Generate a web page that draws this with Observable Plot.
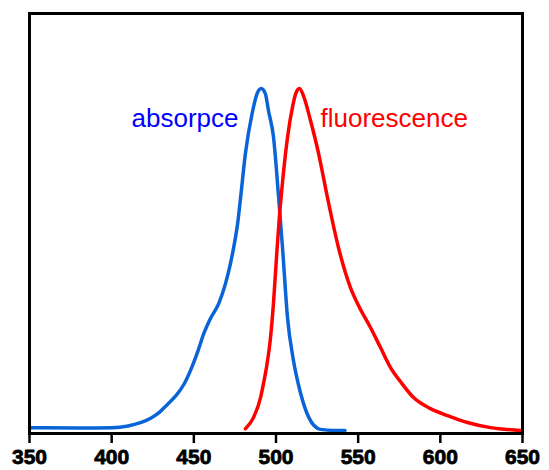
<!DOCTYPE html>
<html>
<head>
<meta charset="utf-8">
<script src="https://cdn.jsdelivr.net/npm/d3@7"></script>
<script src="https://cdn.jsdelivr.net/npm/@observablehq/plot@0.6"></script>
<style>
  html, body { margin: 0; padding: 0; background: #fff; }
  #chart svg { display: block; }
</style>
</head>
<body>
<div id="chart"></div>
<script>
// Absorption spectrum (wavelength nm, normalized intensity)
const absWl  = [350, 380, 400, 410, 418, 424, 429, 433, 438.8, 443.9, 448, 452, 456.1, 460.1, 465.2, 469.3, 472.3, 474.7, 476.7, 478.6, 481.4, 485.5, 488.5, 491, 493.5, 495.4, 498.5, 501.5, 504, 507, 510.6, 515, 520, 527, 535, 542];
const absVal = [0.017, 0.016, 0.017, 0.022, 0.032, 0.045, 0.061, 0.08, 0.108, 0.142, 0.183, 0.232, 0.29, 0.333, 0.377, 0.435, 0.493, 0.551, 0.61, 0.69, 0.812, 0.928, 0.985, 1.0, 0.985, 0.936, 0.858, 0.69, 0.536, 0.336, 0.212, 0.116, 0.046, 0.012, 0.009, 0.009];

// Fluorescence spectrum
const fluWl  = [481.4, 486.3, 490.6, 492.4, 494.5, 496.6, 498.5, 500.3, 502.1, 504, 507, 510, 512, 514.3, 517, 521, 525.9, 531.3, 538, 545.3, 550.2, 557.5, 563.6, 569.7, 575.8, 583.7, 594, 604.4, 616.5, 630.5, 649];
const fluVal = [0.014, 0.046, 0.104, 0.145, 0.2, 0.275, 0.38, 0.51, 0.63, 0.73, 0.858, 0.945, 0.985, 1.0, 0.975, 0.907, 0.812, 0.684, 0.539, 0.423, 0.371, 0.307, 0.249, 0.191, 0.15, 0.104, 0.072, 0.052, 0.032, 0.017, 0.009];

const xTicks = [350, 400, 450, 500, 550, 600, 650];

const labels = [
  {text: "absorpce", x: 477.2, y: 0.887, anchor: "end", color: "#0000ff"},
  {text: "fluorescence", x: 527.1, y: 0.887, anchor: "start", color: "#ff0000"}
];

const absData = absWl.map((w, i) => ({w, v: absVal[i]}));
const fluData = fluWl.map((w, i) => ({w, v: fluVal[i]}));

const chart = Plot.plot({
  width: 549,
  height: 470,
  marginLeft: 29,
  marginRight: 27,
  marginTop: 13,
  marginBottom: 37,
  style: {fontFamily: "Liberation Sans, Arial, sans-serif", background: "#fff", color: "#000"},
  x: {domain: [350, 650], axis: null},
  y: {domain: [0, 1.217], axis: null},
  marks: [
    Plot.line(absData, {x: "w", y: "v", stroke: "#0a64d8", strokeWidth: 3.5, curve: "monotone-x"}),
    Plot.line(fluData, {x: "w", y: "v", stroke: "#ff0000", strokeWidth: 3.5, curve: "monotone-x"}),
    Plot.text(labels.filter(d => d.anchor === "end"), {x: "x", y: "y", text: "text", fill: "color", textAnchor: "end", lineAnchor: "bottom", fontSize: 26}),
    Plot.text(labels.filter(d => d.anchor === "start"), {x: "x", y: "y", text: "text", fill: "color", textAnchor: "start", lineAnchor: "bottom", fontSize: 26}),
    Plot.axisX({ticks: xTicks, tickFormat: d => String(d), tickSize: 10, tickPadding: 6, strokeWidth: 2.5, fontSize: 21, fontWeight: "bold", fill: "#000", textStroke: "#000", textStrokeWidth: 0.8}),
    Plot.frame({stroke: "#000", strokeWidth: 3})
  ]
});
document.getElementById("chart").append(chart);
</script>
</body>
</html>
